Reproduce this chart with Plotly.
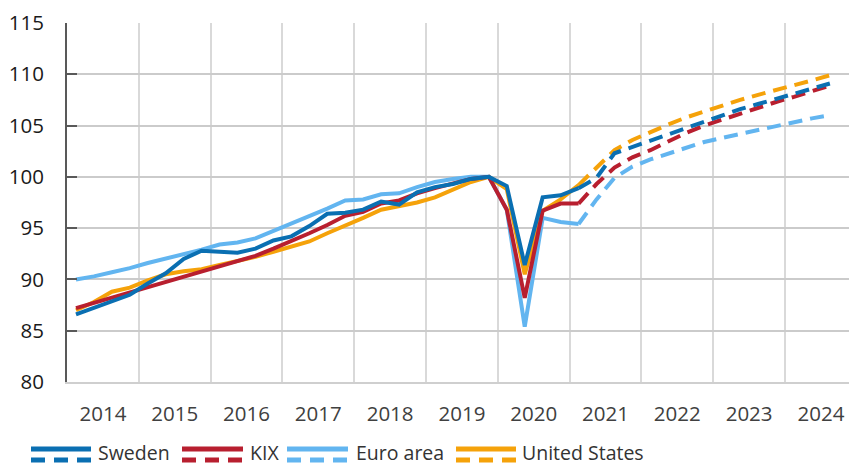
import plotly.graph_objects as go

# ---------------- data ----------------
quarters = [f"{y}Q{q}" for y in range(2014, 2025) for q in (1, 2, 3, 4)][:43]  # 2014Q1 .. 2024Q3
outcome_end = "2021Q1"   # last outcome; dashed forecast afterwards

sweden = [86.6, 87.2, 87.8, 88.5, 89.6, 90.6, 92.0, 92.8, 92.7, 92.6, 93.0, 93.8, 94.2, 95.2,
          96.4, 96.5, 96.8, 97.6, 97.3, 98.5, 99.0, 99.3, 99.8, 100.0, 99.1, 91.4, 98.0, 98.2,
          98.9, 99.9, 102.3, 102.9, 103.5, 104.2, 104.8, 105.4, 106.0, 106.6, 107.1, 107.6,
          108.1, 108.6, 109.1]
kix = [87.2, 87.7, 88.2, 88.7, 89.2, 89.7, 90.2, 90.7, 91.3, 91.8, 92.3, 93.0, 93.7, 94.5,
       95.3, 96.2, 96.6, 97.4, 97.7, 98.4, 98.9, 99.4, 99.8, 100.0, 96.8, 88.2, 96.7, 97.4,
       97.4, 99.3, 100.9, 101.9, 102.6, 103.5, 104.3, 105.0, 105.6, 106.2, 106.7, 107.3,
       107.8, 108.3, 108.9]
euro_area = [90.0, 90.3, 90.7, 91.1, 91.6, 92.0, 92.5, 92.9, 93.4, 93.6, 94.0, 94.7, 95.4, 96.2,
             96.9, 97.7, 97.8, 98.3, 98.4, 99.0, 99.5, 99.8, 100.0, 100.0, 96.8, 85.4, 96.0, 95.6,
             95.4, 97.8, 99.9, 101.0, 101.7, 102.3, 102.8, 103.4, 103.8, 104.2, 104.6, 105.0,
             105.4, 105.7, 106.0]
united_states = [87.0, 87.8, 88.8, 89.2, 89.9, 90.5, 90.8, 91.0, 91.4, 91.8, 92.2, 92.7, 93.2, 93.7,
                 94.5, 95.2, 96.0, 96.8, 97.2, 97.5, 98.0, 98.8, 99.5, 100.0, 98.8, 90.5, 96.7, 97.8,
                 99.2, 100.9, 102.6, 103.6, 104.4, 105.1, 105.8, 106.4, 107.0, 107.5, 108.0, 108.5,
                 108.9, 109.4, 109.9]

year_labels = [str(y) for y in range(2014, 2025)]
y_ticks = [80, 85, 90, 95, 100, 105, 110, 115]

# ---------------- styling ----------------
COL = {
    "Sweden": "#0a6fb2",
    "KIX": "#b81f2f",
    "Euro area": "#62b5f0",
    "United States": "#f5a20a",
}
FONT = "Open Sans, Noto Sans, DejaVu Sans, sans-serif"
DASH = "14px,8px"


def qpos(label):
    return int(label[:4]) + (int(label[-1]) - 0.5) / 4


x = [qpos(q) for q in quarters]
k = quarters.index(outcome_end)

fig = go.Figure()
draw_order = [("Euro area", euro_area), ("United States", united_states),
              ("KIX", kix), ("Sweden", sweden)]
for name, vals in draw_order:
    fig.add_trace(go.Scatter(x=x[:k + 1], y=vals[:k + 1], mode="lines", name=name,
                             line=dict(color=COL[name], width=4), showlegend=False,
                             hoverinfo="skip"))
    fig.add_trace(go.Scatter(x=x[k:], y=vals[k:], mode="lines", name=name + " forecast",
                             line=dict(color=COL[name], width=4, dash=DASH), showlegend=False,
                             hoverinfo="skip"))

# ---------------- layout ----------------
L, T, W, H = 67, 23, 782, 359
fig.update_layout(
    width=849, height=466,
    margin=dict(l=L, r=849 - L - W, t=T, b=466 - T - H),
    paper_bgcolor="white", plot_bgcolor="white",
    font=dict(family=FONT, size=20.5, color="#262626"),
    showlegend=False,
)
fig.update_xaxes(
    range=[2014, 2014 + W / 71.8],
    tickmode="array", tickvals=[int(y) + 0.5 for y in year_labels], ticktext=year_labels,
    ticks="", showgrid=False, zeroline=False,
    tickfont=dict(family=FONT, size=20.5, color="#404040"),
    ticklabelstandoff=12,
    minor=dict(tick0=2014, dtick=1, showgrid=True, gridcolor="#d9d9d9", gridwidth=2),
    showline=True, linecolor="#cfcfcf", linewidth=2,
)
fig.update_yaxes(
    range=[80, 115], tickmode="array", tickvals=y_ticks,
    showgrid=True, gridcolor="#cbcbcb", gridwidth=2, zeroline=False,
    showline=True, linecolor="#595959", linewidth=2,
    ticks="inside", ticklen=10, tickwidth=2, tickcolor="#595959",
    tickfont=dict(family=FONT, size=20.5, color="#1a1a1a"),
    ticklabelstandoff=17,
)

# ---------------- custom legend (solid over dashed) ----------------
def px_x(p):
    return (p - L) / W


def px_y(p):
    return (T + H - p) / H


legend_items = [("Sweden", 31, 91, 97), ("KIX", 182, 243, 249),
                ("Euro area", 287, 348, 355), ("United States", 456, 516, 521)]
for name, x0, x1, tx in legend_items:
    fig.add_shape(type="line", xref="paper", yref="paper",
                  x0=px_x(x0), x1=px_x(x1), y0=px_y(449), y1=px_y(449),
                  line=dict(color=COL[name], width=5))
    fig.add_shape(type="line", xref="paper", yref="paper",
                  x0=px_x(x0), x1=px_x(x1), y0=px_y(460), y1=px_y(460),
                  line=dict(color=COL[name], width=5, dash="14px,9px"))
    fig.add_annotation(text=name, xref="paper", yref="paper", x=px_x(tx), y=px_y(452.5),
                       xanchor="left", yanchor="middle", showarrow=False, borderpad=0,
                       font=dict(family=FONT, size=19.5, color="#333333"))

fig.write_html("out.html", config={"displayModeBar": False},
               post_script="document.body.style.margin='0';")
